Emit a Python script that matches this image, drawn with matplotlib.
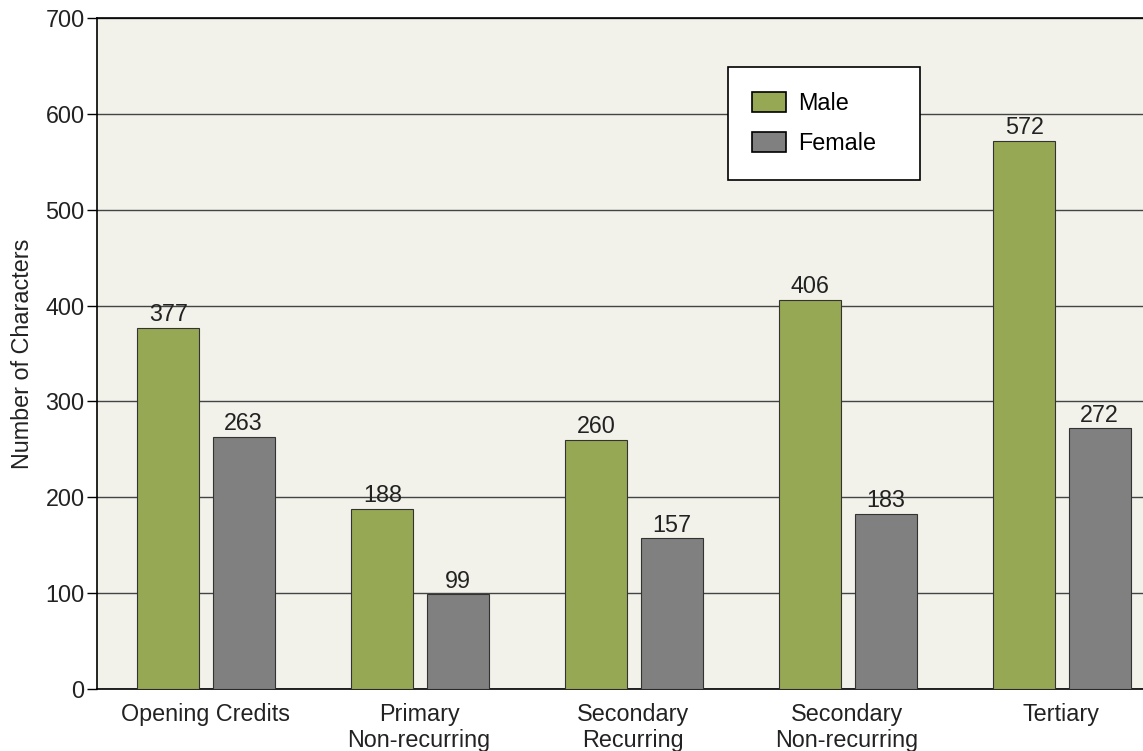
import numpy as np
import matplotlib.pyplot as plt

# character counts by role type
categories = ['Opening Credits', 'Primary\nNon-recurring', 'Secondary\nRecurring',
              'Secondary\nNon-recurring', 'Tertiary']
male = [377, 188, 260, 406, 572]
female = [263, 99, 157, 183, 272]
yticks = [0, 100, 200, 300, 400, 500, 600, 700]

plt.rcParams['font.family'] = ['Liberation Sans', 'DejaVu Sans']

fig = plt.figure(figsize=(11.43, 7.51), dpi=100)
ax = fig.add_axes([0.0849, 0.0826, 0.9151, 0.8934])
ax.set_facecolor('#f2f2ea')

x = np.arange(len(categories))
w = 0.29
bars_m = ax.bar(x - 0.172, male, w, color='#96a853', edgecolor='#333333',
                linewidth=0.8, label='Male', zorder=3)
bars_f = ax.bar(x + 0.180, female, w, color='#808080', edgecolor='#333333',
                linewidth=0.8, label='Female', zorder=3)

# value labels above each bar
for bars, vals in [(bars_m, male), (bars_f, female)]:
    for b, v in zip(bars, vals):
        ax.annotate(str(v), (b.get_x() + b.get_width() / 2, v),
                    xytext=(0, 1), textcoords='offset points',
                    ha='center', va='bottom', fontsize=16.8, color='#222222')

ax.set_xlim(-0.505, 4.383)
ax.set_ylim(0, 700)
ax.set_yticks(yticks)
ax.set_xticks(x)
ax.set_xticklabels(categories, fontsize=16.8, color='#222222', linespacing=1.15)
ax.tick_params(axis='x', length=0, pad=10)
ax.tick_params(axis='y', length=7, width=1, labelsize=16.8, labelcolor='#222222', pad=2)
ax.yaxis.grid(True, color='#444444', linewidth=1, zorder=0)
ax.set_axisbelow(True)

for s in ['left', 'bottom', 'top']:
    ax.spines[s].set_color('black')
    ax.spines[s].set_linewidth(1.2)
ax.spines['right'].set_visible(False)

ax.set_ylabel('Number of Characters', fontsize=16.8, color='#222222', labelpad=8)

leg = ax.legend(loc='upper left', bbox_to_anchor=(0.603, 0.7616, 0.184, 0.1654),
                mode='expand', fontsize=16.8,
                fancybox=False, framealpha=1, edgecolor='black',
                handlelength=1.45, handleheight=0.95, handletextpad=0.5,
                labelspacing=0.75, borderpad=1.05, borderaxespad=0)
leg.get_frame().set_linewidth(1.2)
for h in leg.legend_handles:
    h.set_edgecolor('black')
    h.set_linewidth(1.2)

fig.savefig('out.png', dpi=100)
